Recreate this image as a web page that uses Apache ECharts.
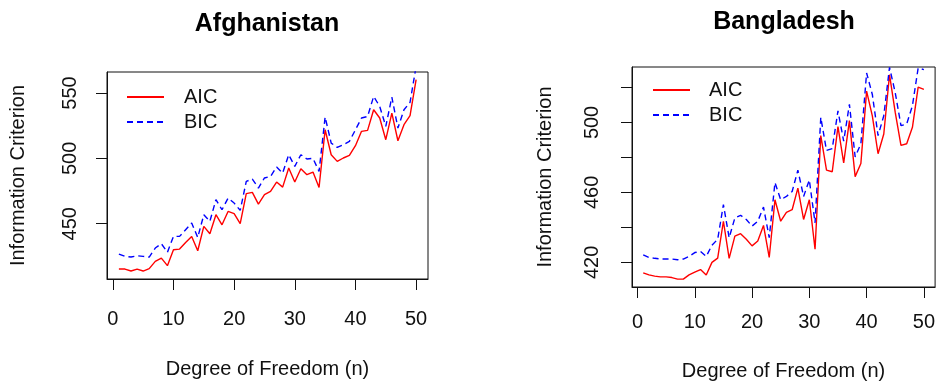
<!DOCTYPE html>
<html>
<head>
<meta charset="utf-8">
<script src="https://cdn.jsdelivr.net/npm/echarts@6/dist/echarts.min.js"></script>
<style>
html,body{margin:0;padding:0;background:#fff;}
#c{width:938px;height:386px;}
</style>
</head>
<body>
<div id="c"></div>
<script>
// ---- data ----
const dof = [1,2,3,4,5,6,7,8,9,10,11,12,13,14,15,16,17,18,19,20,21,22,23,24,25,26,27,28,29,30,31,32,33,34,35,36,37,38,39,40,41,42,43,44,45,46,47,48,49,50];

const afgAIC = [415.3,415.3,413.8,415.3,413.8,415.6,421.2,423.7,417.9,430.1,430.6,435.7,440.3,429.3,448.0,442.3,456.9,449.2,459.4,457.7,450.0,473.0,474.0,465.0,472.2,474.7,481.9,478.0,492.6,481.9,492.1,487.5,489.5,477.8,521.9,502.8,497.7,500.3,502.3,509.7,520.7,521.4,537.2,530.9,514.3,534.7,513.5,525.8,532.7,560.2];
const afgBIC = [426.8,425.0,424.5,425.5,425.0,424.5,431.4,434.7,428.1,440.3,440.3,445.4,450.5,439.5,456.9,451.8,468.4,460.7,469.6,465.8,460.2,482.4,484.2,477.3,485.0,486.2,493.4,488.8,502.8,493.9,502.8,499.5,500.0,490.0,531.6,511.7,508.4,510.5,513.0,521.9,530.9,532.1,547.4,539.8,524.5,546.9,523.2,537.2,542.9,570.4];

const bgdAIC = [414.0,412.8,412.1,411.7,411.7,411.3,410.4,410.4,412.8,414.4,415.9,412.8,420.0,422.4,443.5,422.3,435.0,436.4,433.2,429.4,432.2,441.1,422.8,455.8,443.5,448.6,450.1,462.4,444.5,455.8,427.5,492.5,472.7,471.8,497.6,476.9,501.0,469.0,476.5,517.9,503.8,482.1,493.4,527.3,505.7,486.9,487.8,497.2,520.2,518.9];
const bgdBIC = [424.3,422.8,422.3,421.9,421.9,421.9,421.5,421.9,423.4,425.6,426.2,423.4,429.8,433.2,453.0,434.1,445.4,446.9,444.5,440.7,443.5,451.6,434.1,465.6,455.8,457.7,460.5,472.7,457.7,467.1,442.6,502.9,484.0,485.0,506.6,489.3,510.4,480.3,487.8,528.3,516.0,492.5,503.8,531.5,517.0,498.2,499.1,509.5,531.1,530.2];

const xTicks = [0,10,20,30,40,50];
const afgYTicks = [450,500,550];
const bgdYTicks = [420,440,460,480,500,520];
const bgdYLabels = [420,460,500];

const titles = ['Afghanistan','Bangladesh'];
const xName = 'Degree of Freedom (n)';
const yName = 'Information Criterion';
const seriesNames = ['AIC','BIC'];

// ---- chart ----
const FONT = 'Liberation Sans, Arial, sans-serif';
const INK = '#111';
const pairs = (ys) => ys.map((v,i) => [dof[i], v]);

function xAxisFor(gridIndex, nameGap, labelMargin) {
  return {
    type:'value', gridIndex, min:-0.96, max:51.96,
    name:xName, nameLocation:'middle', nameGap,
    nameTextStyle:{fontFamily:FONT,fontSize:20,color:INK},
    axisLine:{show:true,onZero:false,lineStyle:{color:INK,width:1}},
    axisTick:{show:true,inside:false,length:11,customValues:xTicks,lineStyle:{color:INK}},
    axisLabel:{show:true,customValues:xTicks,margin:labelMargin,fontFamily:FONT,fontSize:20,color:INK},
    splitLine:{show:false}
  };
}
function yAxisFor(gridIndex, min, max, ticks, labels, nameGap, labelMargin) {
  return {
    type:'value', gridIndex, min, max,
    name:yName, nameLocation:'middle', nameGap, nameRotate:90,
    nameTextStyle:{fontFamily:FONT,fontSize:20,color:INK},
    axisLine:{show:true,onZero:false,lineStyle:{color:INK,width:1}},
    axisTick:{show:true,inside:false,length:11,customValues:ticks,lineStyle:{color:INK}},
    axisLabel:{show:true,customValues:labels,rotate:90,margin:labelMargin,fontFamily:FONT,fontSize:20,color:INK},
    splitLine:{show:false}
  };
}
function lineSeries(name, data, idx, color, dashed) {
  return {
    type:'line', name, data, xAxisIndex:idx, yAxisIndex:idx,
    symbol:'none', animation:false, clip:true,
    lineStyle:{color, width:1.4, type: dashed ? [6,4] : 'solid'},
    itemStyle:{color}
  };
}
function legendFor(left, top, textPad) {
  return {
    data:seriesNames, orient:'vertical', left, top, padding:0,
    itemWidth:37, itemHeight:14, itemGap:5,
    selectedMode:false,
    itemStyle:{color:'rgba(0,0,0,0)', borderWidth:0, opacity:0},
    textStyle:{fontFamily:FONT,fontSize:20,color:INK,lineHeight:20,padding:[0,0,0,textPad]}
  };
}

const chart = echarts.init(document.getElementById('c'), null, {renderer:'canvas'});
chart.setOption({
  backgroundColor:'#fff',
  animation:false,
  title:[
    {text:titles[0], left:267, top:12, textAlign:'center', padding:0,
     textStyle:{fontFamily:FONT,fontSize:25,fontWeight:'bold',color:'#000'}},
    {text:titles[1], left:784, top:10, textAlign:'center', padding:0,
     textStyle:{fontFamily:FONT,fontSize:25,fontWeight:'bold',color:'#000'}}
  ],
  legend:[legendFor(126, 87, 15), legendFor(652, 80, 14)],
  grid:[
    {left:107, top:72, width:321, height:207, show:true, borderColor:INK, borderWidth:1, containLabel:false},
    {left:632, top:67, width:305, height:223, show:true, borderColor:INK, borderWidth:1, containLabel:false}
  ],
  xAxis:[xAxisFor(0, 80, 30), xAxisFor(1, 74, 25)],
  yAxis:[
    yAxisFor(0, 407.7, 566.1, afgYTicks, afgYTicks, 79, 27),
    yAxisFor(1, 405.9, 531.7, bgdYTicks, bgdYLabels, 77, 30)
  ],
  series:[
    lineSeries(seriesNames[0], pairs(afgAIC), 0, '#ff0000', false),
    lineSeries(seriesNames[1], pairs(afgBIC), 0, '#0000ff', true),
    lineSeries(seriesNames[0], pairs(bgdAIC), 1, '#ff0000', false),
    lineSeries(seriesNames[1], pairs(bgdBIC), 1, '#0000ff', true)
  ]
});
</script>
</body>
</html>
